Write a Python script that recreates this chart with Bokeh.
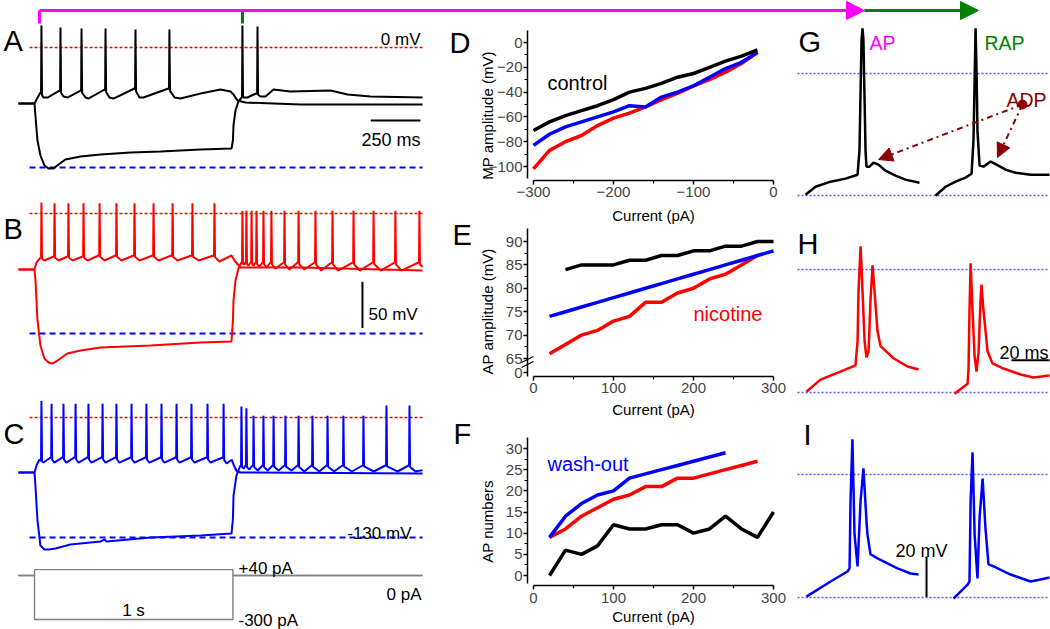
import numpy as np
from bokeh.plotting import figure
from bokeh.models import Range1d, LinearAxis, FixedTicker, Label, Arrow, NormalHead
from bokeh.embed import file_html
from bokeh.resources import INLINE

FONT = "Liberation Sans"
W, H = 1050, 629  # reference coordinate frame

# ---------------- Panel D: MP amplitude vs current ----------------
D_current = [-300, -280, -260, -240, -220, -200, -180, -160, -140, -120, -100, -80, -60, -40, -20]
D_control = [-71, -64, -59, -55, -51, -46, -40, -37, -33, -28, -25, -20, -15, -11, -6]
D_nicotine = [-102, -87, -80, -75, -67, -61, -57, -52, -46, -41, -35, -30, -24, -17, -8]
D_washout = [-83, -74, -68, -64, -60, -56, -51, -52, -44, -40, -35, -28, -21, -16, -8]

# ---------------- Panel E: AP amplitude vs current ----------------
E_control_current = [40, 60, 80, 100, 120, 140, 160, 180, 200, 220, 240, 260, 280, 300]
E_control = [84, 85, 85, 85, 86, 86, 87, 87, 88, 88, 89, 89, 90, 90]
E_nicotine_current = [20, 40, 60, 80, 100, 120, 140, 160, 180, 200, 220, 240, 260, 280]
E_nicotine = [66, 68, 70, 71, 73, 74, 77, 77, 79, 80, 82, 83, 85, 87]
E_washout_current = [20, 40, 60, 80, 100, 120, 140, 160, 180, 200, 220, 240, 260, 280, 300]
E_washout = [74, 75, 76, 77, 78, 79, 80, 81, 82, 83, 84, 85, 86, 87, 88]

# ---------------- Panel F: AP numbers vs current ----------------
F_control_current = [20, 40, 60, 80, 100, 120, 140, 160, 180, 200, 220, 240, 260, 280, 300]
F_control = [0, 6, 5, 7, 12, 11, 11, 12, 12, 10, 11, 14, 11, 9, 15]
F_nicotine_current = [20, 40, 60, 80, 100, 120, 140, 160, 180, 200, 220, 240, 260, 280]
F_nicotine = [9, 11, 14, 16, 18, 19, 21, 21, 23, 23, 24, 25, 26, 27]
F_washout_current = [20, 40, 60, 80, 100, 120, 140, 160, 180, 200, 220, 240]
F_washout = [9, 14, 17, 19, 20, 23, 24, 25, 26, 27, 28, 29]

# ---------------- Panels A-C: voltage traces (ms, mV) ----------------
# A (control, black)
A_dep_t = [-81, 0, 10, 30, 45, 66, 126, 146, 166, 232, 257, 272, 353, 378, 398, 504, 529, 549, 675, 706, 736, 837, 937, 988, 1003, 1023, 1063, 1341, 1956]
A_dep_v = [-60.7, -60.7, -56.3, -48.8, -54.2, -54.2, -46.6, -53.1, -54.2, -46.6, -54.2, -55.3, -45.5, -54.2, -55.3, -44.4, -54.2, -54.2, -44.4, -54.2, -55.3, -49.8, -45.5, -47.7, -50.9, -57.4, -59.6, -61.8, -61.8]
A_dep_spk_t = [35, 131, 237, 358, 509, 680]
A_dep_spk_v = [23.8, 21.7, 20.6, 20.6, 19.5, 19.5]
A_hyp_t = [-81, 0, 5, 15, 30, 50, 71, 96, 121, 156, 232, 333, 484, 635, 837, 993, 1000, 1003, 1013, 1028, 1043, 1053, 1073, 1094, 1119, 1139, 1164, 1205, 1290, 1492, 1578, 1693, 1956]
A_hyp_v = [-60.7, -60.7, -74.7, -100.8, -117, -127.8, -131.1, -131.1, -126.8, -121.3, -118.1, -115.9, -113.8, -112.7, -110.5, -109.4, -100.8, -84.5, -68.3, -58.5, -54.2, -54.2, -54.2, -52, -49.8, -53.1, -53.1, -45.5, -47.7, -46.6, -50.9, -53.1, -54.2]
A_hyp_spk_t = [1048, 1124]
A_hyp_spk_v = [23.8, 22.7]

# B (nicotine, red)
B_dep_t = [-81, 0, 10, 30, 50, 96, 121, 166, 192, 242, 267, 323, 353, 408, 438, 499, 529, 595, 625, 690, 721, 791, 827, 902, 932, 993, 1008, 1038, 1341, 1956]
B_dep_v = [-60.7, -60.7, -53.1, -47.7, -50.9, -46.6, -50.9, -46.6, -50.9, -46.6, -50.9, -45.5, -50.9, -45.5, -50.9, -45.5, -50.9, -45.5, -50.9, -45.5, -50.9, -45.5, -50.9, -45.5, -52, -45.5, -50.9, -58.5, -58.5, -61.8]
B_dep_spk_t = [35, 101, 171, 247, 328, 413, 504, 600, 696, 796, 907]
B_dep_spk_v = [12, 11, 11, 11, 11, 11, 11, 11, 11, 11, 11]
B_hyp_t = [-81, 0, 5, 15, 30, 50, 71, 91, 116, 166, 232, 333, 585, 837, 993, 1000, 1003, 1013, 1028, 1043, 1058, 1063, 1078, 1089, 1104, 1114, 1134, 1149, 1170, 1189, 1215, 1255, 1285, 1326, 1360, 1411, 1445, 1497, 1530, 1603, 1640, 1704, 1745, 1814, 1850, 1935, 1956]
B_hyp_v = [-60.7, -60.7, -72.6, -115.9, -143, -157.1, -161.4, -162.5, -159.3, -151.7, -148.4, -145.2, -143, -139.8, -138.7, -115.9, -94.3, -72.6, -59.6, -53.1, -55.3, -53.1, -56.3, -53.1, -56.3, -53.1, -57.4, -53.1, -58.5, -53.1, -59.6, -53.1, -60.7, -53.1, -60.7, -53.1, -61.8, -53.1, -61.8, -53.1, -61.8, -53.1, -61.8, -53.1, -61.8, -53.1, -58]
B_hyp_spk_t = [1048, 1068, 1094, 1119, 1154, 1194, 1260, 1331, 1416, 1502, 1608, 1709, 1819, 1940]
B_hyp_spk_v = [3, 3, 3, 3, 3, 3, 3, 3, 3, 3, 3, 3, 3, 3]

# C (wash-out, blue)
C_dep_t = [-81, 0, 10, 25, 45, 81, 100, 141, 160, 202, 222, 267, 287, 338, 358, 408, 428, 484, 504, 559, 579, 635, 655, 711, 731, 786, 806, 867, 887, 948, 968, 995, 1005, 1020, 1040, 1956]
C_dep_v = [-59.6, -59.6, -52, -45.5, -48.8, -43.3, -48.8, -43.3, -48.8, -43.3, -48.8, -43.3, -48.8, -43.3, -48.8, -43.3, -48.8, -43.3, -48.8, -43.3, -48.8, -43.3, -48.8, -43.3, -48.8, -43.3, -48.8, -43.3, -48.8, -43.3, -49.8, -46, -52, -58.5, -59.6, -60.7]
C_dep_spk_t = [35, 86, 146, 207, 272, 343, 413, 489, 564, 640, 716, 791, 872, 953]
C_dep_spk_v = [18, 15, 15, 15, 15, 15, 15, 15, 15, 15, 15, 15, 15, 15]
C_hyp_t = [-81, 0, 5, 15, 30, 50, 71, 106, 181, 333, 353, 363, 585, 837, 993, 1000, 1003, 1018, 1038, 1055, 1063, 1083, 1099, 1125, 1149, 1175, 1200, 1230, 1260, 1295, 1326, 1360, 1396, 1435, 1472, 1510, 1552, 1600, 1653, 1710, 1769, 1830, 1885, 1920, 1956]
C_hyp_v = [-59.6, -59.6, -75, -111.6, -138.7, -143, -143, -141.9, -137.6, -134.3, -132.2, -134.3, -130, -127.8, -125.7, -110, -85, -62.8, -52, -55.3, -52, -56.3, -52, -57.4, -52, -57.4, -52, -57.4, -52, -57.4, -52, -58.5, -52, -58.5, -52, -58.5, -52, -58.5, -52, -58.5, -52, -58.5, -52, -58.5, -57]
C_hyp_spk_t = [1043, 1068, 1104, 1154, 1205, 1265, 1331, 1401, 1477, 1557, 1658, 1774, 1890]
C_hyp_spk_v = [12, 10, 2, 2, 2, 2, 2, 2, 2, 2, 2, 13, 13]

# stimulus protocol
STIM_T = [-81, 0, 1000, 1956]
STIM_AMPS = [40, -300]
REF_LEVELS = [0, -130]  # mV lines

# ---------------- Panels G-I: expanded spikes (ms, mV) ----------------
G_ap_t = [4.2, 9.5, 17.4, 25.3, 31.6, 32.6, 33.2, 33.7, 34.2, 34.7, 35.3, 35.8, 36.3, 37.9, 40.0, 42.6, 46.3, 51.6, 56.8, 64.2]
G_ap_v = [-59.6, -55.7, -53.2, -51.7, -49.8, -37.9, -8.4, 16.3, 22.2, 16.3, -13.3, -37.9, -45.8, -45.8, -43.8, -44.8, -47.8, -50.2, -52.2, -53.7]
G_rap_t = [72.6, 77.9, 83.2, 88.4, 91.6, 92.6, 93.2, 93.7, 94.2, 94.7, 95.8, 97.9, 101.6, 104.7, 109.5, 114.7, 122.6, 132.6]
G_rap_v = [-60.1, -55.7, -53.2, -51.2, -49.3, -33.0, -3.4, 22.2, 1.5, -28.1, -45.3, -45.8, -43.3, -44.8, -47.3, -48.8, -49.8, -49.8]
H_ap_t = [4.7, 12.1, 22.6, 30.5, 31.6, 32.1, 33.2, 34.2, 35.3, 36.3, 37.4, 38.4, 39.5, 40.5, 42.1, 43.7, 50.5, 57.9, 63.7]
H_ap_v = [-59.6, -53.7, -49.8, -46.8, -35.0, -10.3, 11.3, -10.3, -35.0, -42.9, -39.9, -15.3, 2.0, -10.3, -30.0, -37.4, -43.3, -47.3, -48.8]
H_rap_t = [82.6, 89.5, 90.0, 90.5, 91.1, 92.1, 93.2, 94.2, 95.3, 96.3, 96.8, 97.9, 100.0, 102.6, 108.4, 117.4, 124.2, 132.6]
H_rap_v = [-60.6, -55.7, -48.3, -20.2, 3.0, -20.2, -42.4, -49.8, -39.9, -15.3, -7.4, -20.2, -39.9, -45.8, -48.3, -51.2, -52.7, -51.7]
I_ap_t = [4.7, 17.4, 26.3, 27.4, 27.9, 28.9, 30.0, 31.6, 33.2, 34.7, 36.3, 36.8, 38.4, 42.1, 52.6, 59.5, 63.7]
I_ap_v = [-59.6, -52.2, -47.3, -45.8, -12.8, 17.2, -29.1, -44.8, -12.8, 3.0, -22.7, -29.1, -38.9, -40.9, -45.8, -48.3, -48.8]
I_rap_t = [82.1, 89.5, 90.5, 91.1, 92.1, 93.2, 94.7, 95.8, 97.4, 98.9, 100.5, 103.2, 112.1, 122.6, 127.9, 132.6]
I_rap_v = [-60.6, -53.7, -52.2, -12.8, 10.8, -29.1, -50.7, -21.2, -2.0, -26.1, -43.8, -44.8, -48.8, -52.2, -51.2, -50.2]
GHI_LEVELS = [0, -60]


def xr(p0, d0, p1, d1):
    s = (p1 - p0) / (d1 - d0)
    return Range1d(start=d0 - p0 / s, end=d0 + (W - p0) / s)


def yr(p0, d0, p1, d1):
    s = (p1 - p0) / (d0 - d1)
    return Range1d(start=d0 - (H - p0) / s, end=d0 + p0 / s)


def with_spikes(bt, bv, st, sv):
    pts = list(zip(bt, bv))
    for s, pk in zip(st, sv):
        pts += [(s - 2, float(np.interp(s - 2, bt, bv))), (s, pk), (s + 3, float(np.interp(s + 3, bt, bv)))]
    pts.sort()
    return [a for a, _ in pts], [b for _, b in pts]


p = figure(width=W, height=H, x_range=Range1d(0, W), y_range=Range1d(H, 0),
           output_backend="svg", toolbar_location=None, x_axis_type=None, y_axis_type=None,
           min_border=0, outline_line_color=None)
p.extra_x_ranges = {"tL": xr(34, 0, 232.4, 1000), "Dx": xr(533, -300, 773, 0),
                    "Ex": xr(533, 0, 773, 300), "Rt": xr(797, 0, 1049, 132.6)}
p.extra_y_ranges = {"Ay": yr(47, 0, 167, -130), "By": yr(213, 0, 333, -130), "Cy": yr(417, 0, 537, -130),
                    "Sy": yr(575, 0, 619, -300), "Dy": yr(42, 0, 166, -100), "Ey": yr(241, 90, 358, 65),
                    "Fy": yr(448, 30, 575, 0), "Gy": yr(73, 0, 195, -60), "Hy": yr(269, 0, 392, -60),
                    "Iy": yr(474, 0, 597, -60)}


def lab(text, x, y, size, color="black", align="left", baseline="alphabetic", **kw):
    p.add_layout(Label(x=x, y=y, text=text, text_font=FONT, text_font_size=size, text_color=color,
                       text_align=align, text_baseline=baseline, **kw))


# ---- reference lines in A-C ----
for yn in ["Ay", "By", "Cy"]:
    p.segment(x0=[-25], y0=[REF_LEVELS[0]], x1=[1956], y1=[REF_LEVELS[0]], x_range_name="tL", y_range_name=yn,
              line_color="#ff0000", line_dash="3 2", line_width=1.5)
    p.segment(x0=[-25], y0=[REF_LEVELS[1]], x1=[1956], y1=[REF_LEVELS[1]], x_range_name="tL", y_range_name=yn,
              line_color="#0000ff", line_dash="6 4", line_width=2)

# ---- traces A-C ----
traces = [
    (A_dep_t, A_dep_v, A_dep_spk_t, A_dep_spk_v, "Ay", "black"),
    (A_hyp_t, A_hyp_v, A_hyp_spk_t, A_hyp_spk_v, "Ay", "black"),
    (B_dep_t, B_dep_v, B_dep_spk_t, B_dep_spk_v, "By", "#ff0000"),
    (B_hyp_t, B_hyp_v, B_hyp_spk_t, B_hyp_spk_v, "By", "#ff0000"),
    (C_dep_t, C_dep_v, C_dep_spk_t, C_dep_spk_v, "Cy", "#0000ff"),
    (C_hyp_t, C_hyp_v, C_hyp_spk_t, C_hyp_spk_v, "Cy", "#0000ff"),
]
for bt, bv, st, sv, yn, col in traces:
    t, v = with_spikes(bt, bv, st, sv)
    p.line(t, v, x_range_name="tL", y_range_name=yn, line_color=col, line_width=2)

# ---- stimulus ----
for amp in STIM_AMPS:
    p.line([STIM_T[0], STIM_T[1], STIM_T[1], STIM_T[2], STIM_T[2], STIM_T[3]], [0, 0, amp, amp, 0, 0],
           x_range_name="tL", y_range_name="Sy", line_color="#808080", line_width=1.4)

# ---- scale bars ----
p.line([1695, 1945], [-79, -79], x_range_name="tL", y_range_name="Ay", line_color="black", line_width=2)
p.line([1653, 1653], [-74, -124], x_range_name="tL", y_range_name="By", line_color="black", line_width=2)
p.line([112.6, 132.6], [-44.3, -44.3], x_range_name="Rt", y_range_name="Hy", line_color="black", line_width=2)
p.line([67.9, 67.9], [-40, -60], x_range_name="Rt", y_range_name="Iy", line_color="black", line_width=2)

# ---- D/E/F lines ----
for xs, ys, col in [(D_current, D_nicotine, "#ff0000"), (D_current, D_washout, "#0000ff"),
                    (D_current, D_control, "black")]:
    p.line(xs, ys, x_range_name="Dx", y_range_name="Dy", line_color=col, line_width=3.5)
for xs, ys, yn, col in [
    (E_nicotine_current, E_nicotine, "Ey", "#ff0000"), (E_washout_current, E_washout, "Ey", "#0000ff"),
    (E_control_current, E_control, "Ey", "black"),
    (F_nicotine_current, F_nicotine, "Fy", "#ff0000"), (F_washout_current, F_washout, "Fy", "#0000ff"),
    (F_control_current, F_control, "Fy", "black"),
]:
    p.line(xs, ys, x_range_name="Ex", y_range_name=yn, line_color=col, line_width=3.5)


def style(ax):
    ax.axis_line_width = 1.5
    ax.major_tick_line_width = 1.5
    ax.minor_tick_line_width = 1.2
    ax.major_tick_out = 4
    ax.major_tick_in = 0
    ax.minor_tick_out = 3
    ax.minor_tick_in = 0
    ax.major_label_text_font = FONT
    ax.major_label_text_font_size = "15px"


def add_axes(xn, yn, xloc, xb, xt, xm, yloc, yb, yt, ym, overrides=None):
    xa = LinearAxis(x_range_name=xn, y_range_name=yn, fixed_location=xloc, bounds=xb,
                    ticker=FixedTicker(ticks=xt, minor_ticks=xm))
    style(xa)
    xa.major_label_standoff = 3
    p.add_layout(xa, "below")
    ya = LinearAxis(x_range_name=xn, y_range_name=yn, fixed_location=yloc, bounds=yb,
                    ticker=FixedTicker(ticks=yt, minor_ticks=ym))
    style(ya)
    ya.major_label_standoff = 1
    if overrides:
        ya.major_label_overrides = overrides
    p.add_layout(ya, "left")


add_axes("Dx", "Dy", -111, (-300, 0), [-300, -200, -100, 0], [-250, -150, -50],
         -307.5, (-109.7, 9.7), [-100, -80, -60, -40, -20, 0], [-90, -70, -50, -30, -10])
add_axes("Ex", "Ey", 61.2, (0, 300), [0, 100, 200, 300], [50, 150, 250],
         -7.5, (61.2, 92.8), [62, 65, 70, 75, 80, 85, 90], [67.5, 72.5, 77.5, 82.5, 87.5], {62: "0"})
add_axes("Ex", "Fy", -2.4, (0, 300), [0, 100, 200, 300], [50, 150, 250],
         -7.5, (-1.9, 32.6), [0, 5, 10, 15, 20, 25, 30], [2.5, 7.5, 12.5, 17.5, 22.5, 27.5])

# axis titles
for txt, x_, y_ in [("MP amplitude (mV)", 487, 115), ("AP amplitude (mV)", 487, 311), ("AP numbers", 487, 521)]:
    lab(txt, x_, y_, "15px", align="center", baseline="middle", angle=np.pi / 2)
for y_ in [215, 409, 616]:
    lab("Current (pA)", 653, y_, "15px", align="center", baseline="middle")

# axis break marks on E
p.segment(x0=[521, 521], y0=[362, 367], x1=[533, 533], y1=[356, 361], line_color="black", line_width=1.3)

# ---- G/H/I ----
for yn in ["Gy", "Hy", "Iy"]:
    for lv in GHI_LEVELS:
        p.segment(x0=[0], y0=[lv], x1=[132.6], y1=[lv], x_range_name="Rt", y_range_name=yn,
                  line_color="#5a5aff", line_dash="2 2", line_width=1.4)
for (t, v, yn, col) in [(G_ap_t, G_ap_v, "Gy", "black"), (G_rap_t, G_rap_v, "Gy", "black"),
                        (H_ap_t, H_ap_v, "Hy", "#ff0000"), (H_rap_t, H_rap_v, "Hy", "#ff0000"),
                        (I_ap_t, I_ap_v, "Iy", "#0000ff"), (I_rap_t, I_rap_v, "Iy", "#0000ff")]:
    p.line(t, v, x_range_name="Rt", y_range_name=yn, line_color=col, line_width=2.5)

# ADP arrows
ADP = "#8b0000"
p.scatter([1022], [104], size=9, color=ADP)
for (xe, ye) in [(878, 159), (997, 157)]:
    p.add_layout(Arrow(x_start=1022, y_start=104, x_end=xe, y_end=ye, line_color=ADP, line_width=2,
                       line_dash="dashdot", end=NormalHead(size=14, fill_color=ADP, line_color=ADP)))

# ---- top AP / RAP arrow ----
MAG, GRN = "#ff00ff", "#008000"
p.segment(x0=[39], y0=[10], x1=[39], y1=[23], line_color=MAG, line_width=3)
p.segment(x0=[242], y0=[11], x1=[242], y1=[23], line_color=GRN, line_width=3)
p.add_layout(Arrow(x_start=39, y_start=10, x_end=864, y_end=10, line_color=MAG, line_width=3,
                   end=NormalHead(size=18, fill_color=MAG, line_color=MAG)))
p.add_layout(Arrow(x_start=864, y_start=10, x_end=978, y_end=10, line_color=GRN, line_width=3,
                   end=NormalHead(size=18, fill_color=GRN, line_color=GRN)))

# ---- texts ----
for t_, x_, y_ in [("A", 3, 40), ("B", 3, 228), ("C", 3, 433), ("D", 449, 42), ("E", 452, 234),
                   ("F", 453, 433), ("G", 798, 41), ("H", 797, 243), ("I", 803, 434)]:
    lab(t_, x_, y_, "29px")
lab("0 mV", 420, 39, "17px", align="right")
lab("250 ms", 420, 139, "18px", align="right")
lab("50 mV", 368, 314, "17px")
lab("-130 mV", 411, 533, "17px", align="right")
lab("+40 pA", 238, 568, "17px")
lab("0 pA", 421, 594, "17px", align="right")
lab("1 s", 133, 610, "17px", align="center")
lab("-300 pA", 238, 620, "17px")
lab("control", 547, 82, "20px")
lab("nicotine", 693, 313, "20px", color="#ff0000")
lab("wash-out", 547, 463, "20px", color="#0000ff")
lab("AP", 869, 42, "19.5px", color=MAG)
lab("RAP", 984, 42, "19.5px", color=GRN)
lab("ADP", 1006, 99, "19.5px", color=ADP)
lab("20 ms", 1048, 352, "18px", align="right")
lab("20 mV", 895, 550, "18px")

open("out.html", "w").write(file_html(p, INLINE))
